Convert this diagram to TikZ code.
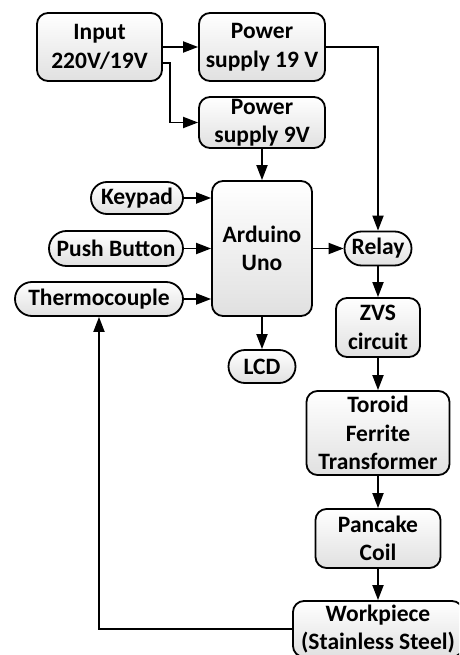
\documentclass[tikz,border=0pt]{standalone}
\usepackage{fontspec}
\setmainfont{Carlito}
\usetikzlibrary{arrows.meta, shapes.misc, calc}

\begin{document}
\begin{tikzpicture}[x=1pt, y=-1pt,
    blk/.style={rectangle, rounded corners=11pt, draw=black, line width=1.8pt,
                top color=white, bottom color=black!12, inner xsep=0pt, inner ysep=-6pt,
                font=\fontsize{23.5}{28.5}\selectfont\bfseries, align=center},
    pill/.style={blk, rounded rectangle, sharp corners},
    arr/.style={line width=1.8pt, -{Triangle[length=15pt, width=11pt]}},
  ]
    \clip (0,0) rectangle (459,655);

    % power side
    \node[blk, minimum width=125pt, minimum height=68pt] (input) at (99.5,47) {Input\\220V/19V};
    \node[blk, minimum width=126pt, minimum height=68pt] (ps19) at (262,47) {Power\\supply 19 V};
    \node[blk, minimum width=126pt, minimum height=51pt] (ps9) at (262,122.5) {Power\\supply 9V};

    % controller and its inputs
    \node[blk, minimum width=100pt, minimum height=135pt] (uno) at (262,248.5) {Arduino\\Uno};
    \node[pill, minimum width=92pt, minimum height=32pt] (keypad) at (137,198) {Keypad};
    \node[pill, minimum width=134pt, minimum height=35pt] (push) at (116,248.5) {Push Button};
    \node[pill, minimum width=168pt, minimum height=34pt] (thermo) at (99,299) {Thermocouple};
    \node[pill, minimum width=67pt, minimum height=33pt] (lcd) at (262,366.5) {LCD};

    % heating chain
    \node[pill, minimum width=67pt, minimum height=34pt] (relay) at (378,248.5) {Relay};
    \node[blk, minimum width=84pt, minimum height=59pt] (zvs) at (378,327.5) {ZVS\\circuit};
    \node[blk, minimum width=143pt, minimum height=84pt] (toroid) at (378,433) {Toroid\\Ferrite\\Transformer};
    \node[blk, minimum width=125pt, minimum height=59pt] (pancake) at (378,538.5) {Pancake\\Coil};
    \node[blk, minimum width=170pt, minimum height=56pt] (work) at (378,629) {Workpiece\\(Stainless Steel)};

    \draw[arr] (input.east) -- (ps19.west);
    \draw[arr] ($(input.east)+(0,16)$) -| ($(ps9.west)+(-28,0)$) -- (ps9.west);
    \draw[arr] (ps9.south) -- (uno.north);
    \draw[arr] (ps19.east) -| (relay.north);
    \draw[arr] (keypad.east) -- (keypad.east -| uno.west);
    \draw[arr] (push.east) -- (push.east -| uno.west);
    \draw[arr] (thermo.east) -- (thermo.east -| uno.west);
    \draw[arr] (uno.east) -- (relay.west);
    \draw[arr] (uno.south) -- (lcd.north);
    \draw[arr] (relay.south) -- (zvs.north);
    \draw[arr] (zvs.south) -- (toroid.north);
    \draw[arr] (toroid.south) -- (pancake.north);
    \draw[arr] (pancake.south) -- (work.north);
    \draw[arr] (work.west) -| (thermo.south);
\end{tikzpicture}
\end{document}
